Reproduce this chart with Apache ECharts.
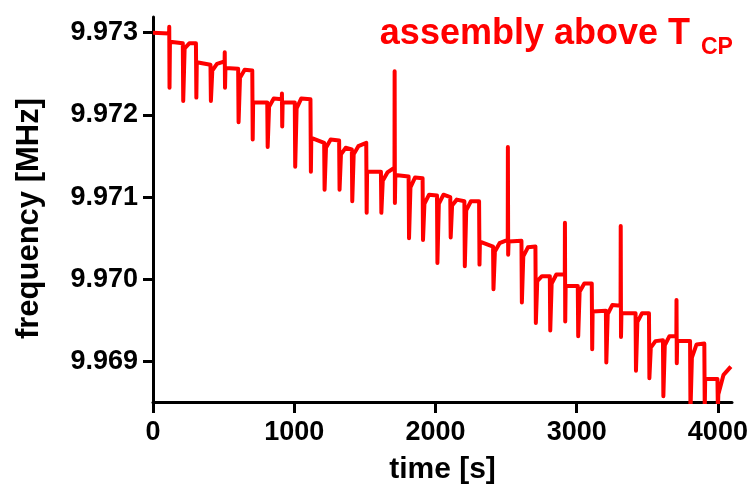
<!DOCTYPE html>
<html>
<head>
<meta charset="utf-8">
<script src="https://cdn.jsdelivr.net/npm/echarts@6/dist/echarts.min.js"></script>
<style>
html,body{margin:0;padding:0;background:#fff;}
#c{width:753px;height:493px;}
</style>
</head>
<body>
<div id="c"></div>
<script>
// ---- data ----
const xTicks = [0, 1000, 2000, 3000, 4000];
const yTicks = [9.969, 9.970, 9.971, 9.972, 9.973];

// initial plateau
const startT = [0, 114];
const startF = [9.97300, 9.97299];

// step / spike events
const evT = [115, 212, 305, 408, 508, 604, 704, 810, 913, 1005,
             1116, 1213, 1319, 1409, 1511, 1615, 1711, 1811, 1910, 2012,
             2106, 2206, 2310, 2409, 2513, 2610, 2709, 2811, 2917, 3009,
             3108, 3208, 3312, 3418, 3513, 3612, 3707, 3804, 3905, 3998];
// upward spike tip (null = none)
const evUp = [9.97307, null, null, null, 9.97276, null, null, null, 9.97226, null,
              null, null, null, null, null, null, 9.97253, null, null, null,
              null, null, null, null, 9.97161, null, null, null, 9.97069, null,
              null, null, 9.97065, null, null, null, 9.96975, null, null, null];
// downward spike tip
const evDip = [9.97233, 9.97217, 9.97221, 9.97217, 9.97233, 9.97191, 9.97170, 9.97161, 9.97186, 9.97137,
               9.97131, 9.97109, 9.97109, 9.97095, 9.97081, 9.97081, 9.97093, 9.97050, 9.97048, 9.97020,
               9.97051, 9.97016, 9.97018, 9.96988, 9.97030, 9.96972, 9.96947, 9.96938, 9.96949, 9.96931,
               9.96915, 9.96899, 9.96930, 9.96889, 9.96880, 9.96858, 9.96898, 9.96840, 9.96840, 9.96840];
// value shortly after the dip, on the rounded recovery (null = sharp return)
const evKnee = [null, 9.97281, null, 9.97254, null, 9.97245, null, 9.97210, null, 9.97208,
                null, 9.97160, 9.97152, 9.97152, null, 9.97120, null, 9.97112, 9.97092, 9.97092,
                9.97090, 9.97084, null, 9.97034, null, 9.97028, 9.96998, 9.96995, null, 9.96985,
                null, 9.96958, null, 9.96948, 9.96917, 9.96920, null, 9.96905, null, null];
// recovered level
const evLvl = [9.97289, 9.97287, 9.97264, 9.97262, 9.97257, 9.97255, 9.97215, 9.97220, 9.97215, 9.97220,
               9.97172, 9.97170, 9.97160, 9.97162, 9.97131, 9.97130, 9.97127, 9.97124, 9.97103, 9.97103,
               9.97097, 9.97095, 9.97046, 9.97044, 9.97046, 9.97039, 9.97004, 9.97006, 9.96992, 9.96995,
               9.96961, 9.96969, 9.96959, 9.96959, 9.96925, 9.96931, 9.96925, 9.96921, 9.96879, 9.96860];
// level just before the next event
const evEnd = [9.97287, 9.97287, 9.97261, 9.97265, 9.97256, 9.97254, 9.97215, 9.97219, 9.97215, 9.97219,
               9.97166, 9.97169, 9.97158, 9.97166, 9.97131, 9.97136, 9.97125, 9.97123, 9.97102, 9.97100,
               9.97095, 9.97095, 9.97040, 9.97048, 9.97047, 9.97040, 9.97004, 9.97006, 9.96992, 9.96995,
               9.96962, 9.96968, 9.96959, 9.96959, 9.96926, 9.96931, 9.96925, 9.96922, 9.96879, 9.96880];
// final recovery tail
const tailT = [4040, 4092];
const tailF = [9.96884, 9.96894];

// ---- build the line ----
const pts = [];
for (let i = 0; i < startT.length; i++) pts.push([startT[i], startF[i]]);
let prevEnd = startF[startF.length - 1];
for (let i = 0; i < evT.length; i++) {
  const t = evT[i];
  pts.push([t, prevEnd]);
  if (evUp[i] !== null) pts.push([t, evUp[i]]);
  pts.push([t + 2, evDip[i]]);
  if (evKnee[i] !== null) {
    pts.push([t + 12, evKnee[i]]);
    pts.push([t + 45, evLvl[i]]);
  } else {
    pts.push([t + 5, evLvl[i]]);
  }
  if (i < evT.length - 1) pts.push([evT[i + 1] - 1, evEnd[i]]);
  prevEnd = evEnd[i];
}
for (let i = 0; i < tailT.length; i++) pts.push([tailT[i], tailF[i]]);

const FONT = '"Liberation Sans", Arial, Helvetica, sans-serif';
const chart = echarts.init(document.getElementById('c'), null, {renderer: 'canvas'});
chart.setOption({
  backgroundColor: '#ffffff',
  animation: false,
  title: [
    {text: 'assembly above T', right: 58, top: 11,
     textStyle: {color: '#ff0000', fontSize: 36, fontWeight: 'bold', fontFamily: FONT}},
    {text: 'CP', left: 696, top: 31,
     textStyle: {color: '#ff0000', fontSize: 23, fontWeight: 'bold', fontFamily: FONT}}
  ],
  grid: {left: 153, right: 21, top: 17, bottom: 91, containLabel: false},
  xAxis: {
    type: 'value', min: 0, max: 4100,
    name: 'time [s]', nameLocation: 'middle', nameGap: 53,
    nameTextStyle: {color: '#000', fontSize: 30, fontWeight: 'bold', fontFamily: FONT},
    axisLine: {show: true, onZero: false, lineStyle: {color: '#000', width: 3}},
    axisTick: {show: true, length: 11, customValues: xTicks, lineStyle: {color: '#000', width: 3}},
    axisLabel: {customValues: xTicks, color: '#000', fontSize: 27, fontWeight: 'bold', fontFamily: FONT, margin: 17,
                formatter: v => String(v)},
    splitLine: {show: false}
  },
  yAxis: {
    type: 'value', min: 9.96851, max: 9.97319,
    name: 'frequency [MHz]', nameLocation: 'middle', nameGap: 108,
    nameTextStyle: {color: '#000', fontSize: 31, fontWeight: 'bold', fontFamily: FONT, padding: [0, 18, 0, 0]},
    axisLine: {show: true, onZero: false, lineStyle: {color: '#000', width: 3}},
    axisTick: {show: true, length: 10, customValues: yTicks, lineStyle: {color: '#000', width: 3}},
    axisLabel: {customValues: yTicks, color: '#000', fontSize: 27, fontWeight: 'bold', fontFamily: FONT, margin: 15,
                formatter: v => v.toFixed(3)},
    splitLine: {show: false}
  },
  series: [{
    type: 'line', data: pts, showSymbol: false, symbol: 'none', clip: true,
    lineStyle: {color: '#ff0000', width: 4, join: 'round'},
    z: 1
  }]
});
</script>
</body>
</html>
